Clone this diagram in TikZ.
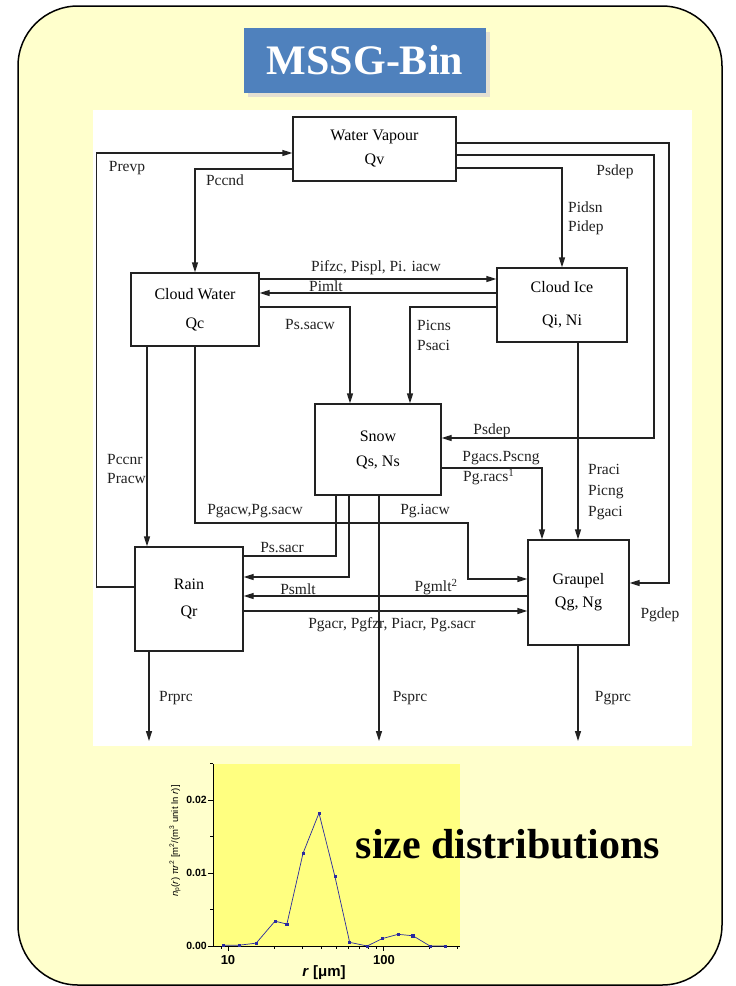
\documentclass[tikz,border=0pt]{standalone}
\usepackage{fontspec}
\setmainfont{Liberation Serif}
\setsansfont{Liberation Sans}
\usetikzlibrary{arrows.meta,positioning,calc,plotmarks}
\definecolor{Pad}{HTML}{FFFFCC}
\definecolor{TitleBlue}{HTML}{4F81BD}
\definecolor{TitleShade}{HTML}{E4E0D2}
\definecolor{Scan}{HTML}{222222}
\definecolor{PlotFill}{HTML}{FFFF80}
\definecolor{Curve}{HTML}{2A2AA0}

\begin{document}
\begin{tikzpicture}[x=1pt,y=-1pt,
  box/.style={draw=Scan,line width=1.3pt,fill=white,align=center,inner sep=0pt,font=\fontsize{16}{19}\selectfont},
  lbl/.style={font=\fontsize{15.5}{17}\selectfont,inner sep=0pt,text=Scan},
  flow/.style={draw=Scan,line width=1.3pt,-{Triangle[length=10pt,width=6pt]}},
  wire/.style={draw=Scan,line width=1.3pt},
  axisline/.style={draw=black,line width=0.8pt},
  ticklbl/.style={font=\sffamily\bfseries\fontsize{10.5}{11}\selectfont,inner sep=0pt}]
\useasboundingbox (0,0) rectangle (736,986);
\draw[line width=1.5pt,fill=Pad,rounded corners=60pt] (18,6) rectangle (722,985);
% title
\node[fill=TitleShade,minimum width=242pt,minimum height=65pt] (titleshade) at (369,64) {};
\node[fill=TitleBlue,minimum width=242pt,minimum height=65pt,text=white,font=\fontsize{42}{44}\selectfont\bfseries] (title) at (365,60) {MSSG-Bin};
% scanned scheme
\fill[white] (93,110) rectangle (692,746);
\node[box,minimum width=163pt,minimum height=64pt] (wv) at (374.5,149) {Water Vapour\\[5pt]Qv};
\node[box,minimum width=128pt,minimum height=73pt] (cw) at (195,309.5) {Cloud Water\\[10pt]Qc};
\node[box,minimum width=130pt,minimum height=74pt] (ci) at (562,305) {Cloud Ice\\[14pt]Qi, Ni};
\node[box,minimum width=126pt,minimum height=91pt] (sn) at (378,449.5) {Snow\\[6pt]Qs, Ns};
\node[box,minimum width=108pt,minimum height=104pt] (rn) at (189,599) {Rain\\[8pt]Qr};
\node[box,minimum width=101pt,minimum height=105pt] (gr) at (578.5,592.5) {Graupel\\[4pt]Qg, Ng};
\coordinate (rdrop) at (149,741);
\coordinate (sdrop) at (379,741);
\coordinate (gdrop) at (578,741);
% from and to vapour
\draw[flow] (rn.west |- 0,587) -- ++(-38,0) |- (wv.west |- 0,153);
\draw[flow] (wv.west |- 0,169) -| (cw.north);
\draw[flow] (wv.east |- 0,143) -- (669,143) |- (gr.east |- 0,583);
\draw[flow] (wv.east |- 0,155) -- (654,155) |- (sn.east |- 0,438);
\draw[flow] (wv.east |- 0,168) -| (ci.north);
% clouds
\draw[flow] (cw.east |- 0,279) -- (ci.west |- 0,279);
\draw[flow] (ci.west |- 0,293) -- (cw.east |- 0,293);
\draw[flow] (cw.east |- 0,307) -| (sn.north -| 350,0);
\draw[flow] (ci.west |- 0,307) -| (sn.north -| 410,0);
\draw[flow] (cw.south -| 147,0) -- (rn.north -| 147,0);
\draw[flow] (cw.south) |- (468,523) |- (gr.west |- 0,579);
\draw[flow] (ci.south -| 578,0) -- (gr.north -| 578,0);
% snow
\draw[wire] (sn.south -| 336,0) |- (rn.east |- 0,556);
\draw[flow] (sn.south -| 349,0) |- (rn.east |- 0,577);
\draw[flow] (sn.south -| 379,0) -- (sdrop);
\draw[flow] (sn.east |- 0,468) -| (gr.north -| 542,0);
% rain and graupel
\draw[flow] (gr.west |- 0,596) -- (rn.east |- 0,596);
\draw[flow] (rn.east |- 0,611) -- (gr.west |- 0,611);
\draw[flow] (rn.south -| 149,0) -- (rdrop);
\draw[flow] (gr.south -| 578,0) -- (gdrop);
% rates
\foreach \n/\x/\y/\t in {prevp/127/168/Prevp, pccnd/225/180/Pccnd, psdepa/615/172/Psdep,
  pifzc/376/268/{Pifzc, Pispl, Pi. iacw}, pimlt/326/286/Pimlt, pssacw/310/325/Ps.sacw,
  psdepb/492/431/Psdep, pgacw/255/511/{Pgacw,Pg.sacw}, pgiacw/425/511/Pg.iacw,
  pssacr/282/548/Ps.sacr, psmlt/298/589/Psmlt, pgacs/501/458/Pgacs.Pscng,
  pgacr/392/625/{Pgacr, Pgfzr, Piacr, Pg.sacr}, pgdep/660/615/Pgdep,
  prprc/176/698/Prprc, psprc/410/698/Psprc, pgprc/613/698/Pgprc}
  \node[lbl] (l\n) at (\x,\y) {\t};
\node[lbl] (lpgmlt) at (436,587) {Pgmlt\textsuperscript{2}};
\node[lbl,anchor=west] (lpgracs) at (463,477) {Pg.racs\textsuperscript{1}};
\node[lbl,anchor=west,align=left] (lpidsn) at (568,218) {Pidsn\\[2pt]Pidep};
\node[lbl,anchor=west,align=left] (lpicns) at (417,335) {Picns\\[3pt]Psaci};
\node[lbl,anchor=west,align=left] (lpccnr) at (107,469) {Pccnr\\[2pt]Pracw};
\node[lbl,anchor=west,align=left] (lpraci) at (588,492) {Praci\\[4pt]Picng\\[4pt]Pgaci};
% size distribution plot
\fill[PlotFill] (213,764) rectangle (460,946);
\draw[axisline] (213,764) -- (213,946) -- (460,946);
\foreach \y/\s in {946/0.00,873/0.01,800/0.02} {\draw[axisline] (213,\y) -- ++(-5,0); \node[ticklbl,anchor=east] (t\s) at (207,\y) {\s};}
\foreach \y in {909.5,836.5,763.5} \draw[axisline] (213,\y) -- ++(-3,0);
\begin{scope}[shift={(73,946)},x=155pt,y=7300pt]
\foreach \r in {10,100} \draw[axisline] ({log10(\r)},0) -- ++(0,-5pt);
\foreach \r in {9,20,30,40,50,60,70,80,90,200,300} \draw[axisline] ({log10(\r)},0) -- ++(0,-3pt);
\draw[Curve,line width=0.7pt] plot[mark=square*,mark size=1.1pt,mark options={fill=Curve}] coordinates {
  (0.968,0.0001) (1.072,0.0001) (1.182,0.0004) (1.303,0.0034) (1.380,0.0030)
  (1.484,0.0127) (1.587,0.0182) (1.690,0.0095) (1.785,0.0005) (1.898,0.0)
  (1.994,0.0010) (2.097,0.0016) (2.193,0.0014) (2.303,0.0) (2.400,0.0)};
\end{scope}
\node[font=\sffamily\bfseries\fontsize{13}{14}\selectfont] (x10) at (228,960) {10};
\node[font=\sffamily\bfseries\fontsize{13}{14}\selectfont] (x100) at (384,960) {100};
\node[font=\sffamily\bfseries\fontsize{15}{16}\selectfont] (xlab) at (324,973) {\textit{r} [μm]};
\node[rotate=90,font=\sffamily\fontsize{9.5}{10}\selectfont] (ylab) at (175,841)
  {\textit{n}\textsubscript{p}(\textit{r}) π\textit{r}\textsuperscript{2} [m\textsuperscript{2}/(m\textsuperscript{3} unit ln \textit{r})]};
\node[font=\fontsize{42}{44}\selectfont\bfseries,anchor=base] (sizetxt) at (508,858) {size distributions};
\end{tikzpicture}
\end{document}
